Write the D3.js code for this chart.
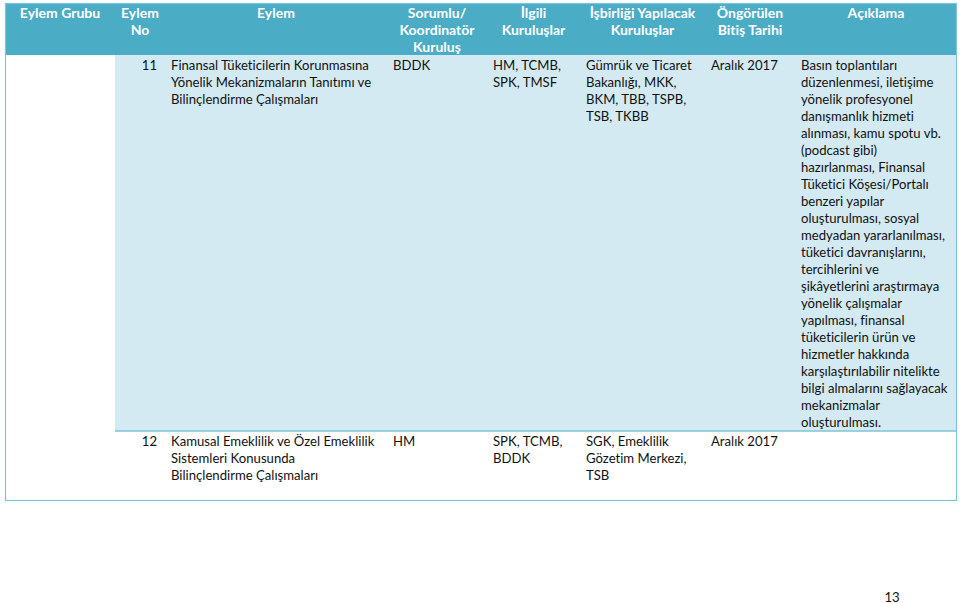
<!DOCTYPE html>
<html><head><meta charset="utf-8">
<script src="https://cdn.jsdelivr.net/npm/d3@7"></script>
<style>body{margin:0;background:#fff}svg{display:block}text{font-variant-ligatures:none;font-kerning:normal}</style>
</head><body>
<svg id="c" width="960" height="604"></svg>
<script>
const columns = ["Eylem Grubu","Eylem No","Eylem","Sorumlu/ Koordinatör Kuruluş","İlgili Kuruluşlar","İşbirliği Yapılacak Kuruluşlar","Öngörülen Bitiş Tarihi","Açıklama"];
const headerLines = [["Eylem Grubu"],["Eylem","No"],["Eylem"],["Sorumlu/","Koordinatör","Kuruluş"],["İlgili","Kuruluşlar"],["İşbirliği Yapılacak","Kuruluşlar"],["Öngörülen","Bitiş Tarihi"],["Açıklama"]];
const eylemNo = ["11","12"];
const eylem = [["Finansal Tüketicilerin Korunmasına","Yönelik Mekanizmaların Tanıtımı ve","Bilinçlendirme Çalışmaları"],["Kamusal Emeklilik ve Özel Emeklilik","Sistemleri Konusunda","Bilinçlendirme Çalışmaları"]];
const sorumlu = [["BDDK"],["HM"]];
const ilgili = [["HM, TCMB,","SPK, TMSF"],["SPK, TCMB,","BDDK"]];
const isbirligi = [["Gümrük ve Ticaret","Bakanlığı, MKK,","BKM, TBB, TSPB,","TSB, TKBB"],["SGK, Emeklilik","Gözetim Merkezi,","TSB"]];
const bitis = [["Aralık 2017"],["Aralık 2017"]];
const aciklama = [["Basın toplantıları","düzenlenmesi, iletişime","yönelik profesyonel","danışmanlık hizmeti","alınması, kamu spotu vb.","(podcast gibi)","hazırlanması, Finansal","Tüketici Köşesi/Portalı","benzeri yapılar","oluşturulması, sosyal","medyadan yararlanılması,","tüketici davranışlarını,","tercihlerini ve","şikâyetlerini araştırmaya","yönelik çalışmalar","yapılması, finansal","tüketicilerin ürün ve","hizmetler hakkında","karşılaştırılabilir nitelikte","bilgi almalarını sağlayacak","mekanizmalar","oluşturulması."],[]];
const pageNumber = "13";

const svg = d3.select("#c");
const font = "Lato, 'Open Sans', sans-serif";
// fit body font so the first Eylem line is ~198px wide, as in the reference
const probe = svg.append("text").attr("font-family",font).attr("font-size",14).text(eylem[0][0]);
const fs = Math.min(14, 14*198/probe.node().getComputedTextLength());
probe.remove();
const hfs = 14, lh = 17;
const colEdges = [5,115,165,387,487,580,705,795,957];
const x = d3.scaleOrdinal().domain(d3.range(8)).range(colEdges.slice(0,8));
const w = i => colEdges[i+1]-colEdges[i];
const yTop = 3, headH = 52, row1B = 431, row2B = 500;
const teal = "#4BACC6", light = "#D3EAF2", line = "#80C3D3", ink = "#111";

svg.append("rect").attr("x",5).attr("y",yTop).attr("width",952).attr("height",headH).attr("fill",teal);
svg.append("rect").attr("x",115).attr("y",yTop+headH).attr("width",842).attr("height",row1B-yTop-headH).attr("fill",light);
svg.append("line").attr("x1",115).attr("x2",957).attr("y1",row1B).attr("y2",row1B).attr("stroke",line).attr("stroke-width",1.5);
svg.append("rect").attr("x",5.5).attr("y",yTop+0.5).attr("width",951).attr("height",row2B-yTop).attr("fill","none").attr("stroke",line).attr("stroke-width",1.2);

headerLines.forEach((ls,i)=>{
  ls.forEach((t,j)=>{
    svg.append("text").attr("x",x(i)+w(i)/2).attr("y",yTop+15+j*lh).attr("text-anchor","middle")
      .attr("font-family",font).attr("font-weight","bold").attr("font-size",hfs).attr("fill","#fff").text(t);
  });
});

const rowTops=[yTop+headH, row1B];
const cols=[null,null,eylem,sorumlu,ilgili,isbirligi,bitis,aciklama];
[0,1].forEach(r=>{
  const y0=rowTops[r]+15;
  svg.append("text").attr("x",x(2)-8).attr("y",y0).attr("text-anchor","end")
    .attr("font-family",font).attr("font-size",fs).attr("fill",ink).text(eylemNo[r]);
  for(let c=2;c<8;c++){
    cols[c][r].forEach((t,j)=>{
      svg.append("text").attr("x",x(c)+6).attr("y",y0+j*lh)
        .attr("font-family",font).attr("font-size",fs).attr("fill",ink).text(t);
    });
  }
});
svg.append("text").attr("x",892).attr("y",602).attr("text-anchor","middle")
  .attr("font-family",font).attr("font-size",fs).attr("fill",ink).text(pageNumber);
</script>
</body></html>
